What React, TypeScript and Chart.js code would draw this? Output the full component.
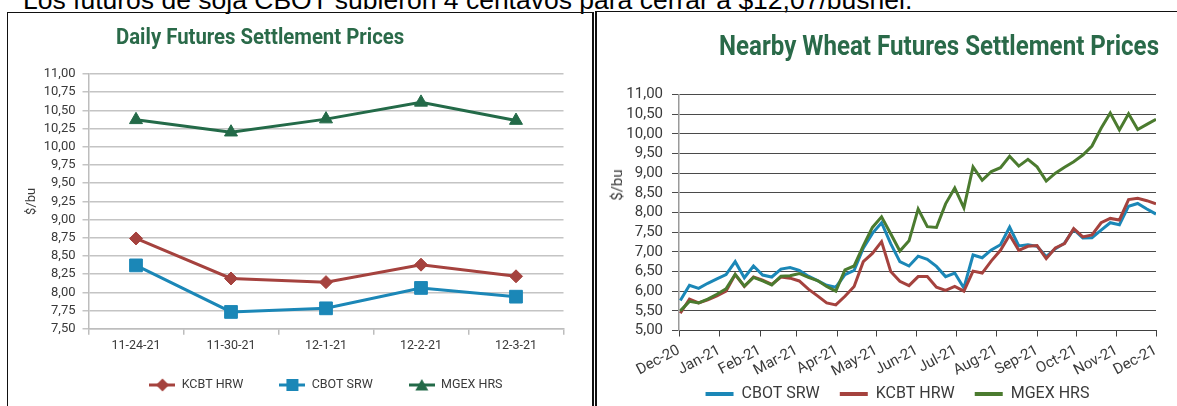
import React, { useEffect, useRef } from 'react';
import { Chart, registerables } from 'chart.js';

Chart.register(...registerables);

// ---------- text ----------
const topText = 'Los futuros de soja CBOT subieron 4 centavos para cerrar a $12,07/bushel.';
const dailyTitle = 'Daily Futures Settlement Prices';
const nearbyTitle = 'Nearby Wheat Futures Settlement Prices';
const axisTitle = '$/bu';

// ---------- left chart data ----------
const dailyDates = ['11-24-21', '11-30-21', '12-1-21', '12-2-21', '12-3-21'];
const dailyKcbt = [8.74, 8.19, 8.14, 8.38, 8.22];
const dailyCbot = [8.37, 7.73, 7.78, 8.06, 7.94];
const dailyMgex = [10.37, 10.2, 10.38, 10.61, 10.36];

// ---------- right chart data ----------
const weekDates = [
  '2020-12-02', '2020-12-09', '2020-12-16', '2020-12-23', '2020-12-30',
  '2021-01-06', '2021-01-13', '2021-01-20', '2021-01-27',
  '2021-02-03', '2021-02-10', '2021-02-17', '2021-02-24',
  '2021-03-03', '2021-03-10', '2021-03-17', '2021-03-24', '2021-03-31',
  '2021-04-07', '2021-04-14', '2021-04-21', '2021-04-28',
  '2021-05-05', '2021-05-12', '2021-05-19', '2021-05-26',
  '2021-06-02', '2021-06-09', '2021-06-16', '2021-06-23', '2021-06-30',
  '2021-07-07', '2021-07-14', '2021-07-21', '2021-07-28',
  '2021-08-04', '2021-08-11', '2021-08-18', '2021-08-25',
  '2021-09-01', '2021-09-08', '2021-09-15', '2021-09-22', '2021-09-29',
  '2021-10-06', '2021-10-13', '2021-10-20', '2021-10-27',
  '2021-11-03', '2021-11-10', '2021-11-17', '2021-11-24',
  '2021-12-01',
];
const nearbyCbot = [5.76, 6.15, 6.07, 6.2, 6.31, 6.42, 6.75, 6.34, 6.64, 6.41, 6.36, 6.56, 6.6, 6.53, 6.38, 6.27, 6.15, 6.1, 6.42, 6.53, 7.09, 7.47, 7.74, 7.21, 6.75, 6.64, 6.89, 6.81, 6.63, 6.37, 6.46, 6.08, 6.92, 6.85, 7.05, 7.18, 7.63, 7.15, 7.18, 7.14, 6.88, 7.08, 7.22, 7.57, 7.35, 7.36, 7.55, 7.74, 7.69, 8.16, 8.23, 8.09, 7.96];
const nearbyKcbt = [5.44, 5.8, 5.7, 5.78, 5.88, 6.0, 6.42, 6.12, 6.36, 6.28, 6.17, 6.36, 6.33, 6.26, 6.05, 5.88, 5.7, 5.65, 5.87, 6.12, 6.75, 6.96, 7.26, 6.5, 6.25, 6.14, 6.37, 6.37, 6.1, 6.02, 6.12, 6.0, 6.51, 6.46, 6.77, 7.04, 7.43, 7.04, 7.14, 7.16, 6.83, 7.1, 7.21, 7.59, 7.38, 7.43, 7.74, 7.85, 7.81, 8.33, 8.36, 8.3, 8.22];
const nearbyMgex = [5.5, 5.74, 5.7, 5.8, 5.92, 6.06, 6.43, 6.13, 6.35, 6.26, 6.16, 6.38, 6.39, 6.45, 6.35, 6.27, 6.12, 6.0, 6.54, 6.64, 7.15, 7.62, 7.89, 7.46, 7.02, 7.28, 8.09, 7.64, 7.62, 8.22, 8.62, 8.12, 9.16, 8.82, 9.04, 9.14, 9.43, 9.18, 9.35, 9.16, 8.8, 9.0, 9.15, 9.29, 9.46, 9.69, 10.14, 10.53, 10.1, 10.51, 10.11, 10.24, 10.37];
const monthTickDates = ['2020-12-01', '2021-01-01', '2021-02-01', '2021-03-01', '2021-04-01', '2021-05-01', '2021-06-01', '2021-07-01', '2021-08-01', '2021-09-01', '2021-10-01', '2021-11-01', '2021-12-01'];
const monthTickLabels = ['Dec-20', 'Jan-21', 'Feb-21', 'Mar-21', 'Apr-21', 'May-21', 'Jun-21', 'Jul-21', 'Aug-21', 'Sep-21', 'Oct-21', 'Nov-21', 'Dec-21'];

// ---------- styles ----------
const RED = '#a5423e';
const BLUE = '#1b87b7';
const DARK_GREEN = '#236a48';
const OLIVE = '#4b7b2f';
const TITLE_GREEN = '#2a6a49';
const TEXT = '#3a3a3a';

const DAY = 86400000;
const origin = Date.parse(monthTickDates[0]);
const toDay = (s: string) => Math.round((Date.parse(s) - origin) / DAY);
const fmt = (v: any) => Number(v).toFixed(2).replace('.', ',');

// let tick labels draw outside the fixed-size scale boxes
const unclipLabels = {
  id: 'unclipLabels',
  afterLayout(chart: any) {
    const { x, y } = chart.scales;
    if (x) x.bottom = chart.height;
    if (y) y.left = 0;
  },
};

function legendIcon(color: string, shape: string): HTMLCanvasElement {
  const c = document.createElement('canvas');
  c.width = 26;
  c.height = 16;
  const ctx = c.getContext('2d')!;
  ctx.strokeStyle = color;
  ctx.fillStyle = color;
  ctx.lineWidth = 3;
  ctx.beginPath();
  ctx.moveTo(0, 8);
  ctx.lineTo(26, 8);
  ctx.stroke();
  ctx.beginPath();
  if (shape === 'diamond') {
    ctx.moveTo(13, 1.5); ctx.lineTo(19.5, 8); ctx.lineTo(13, 14.5); ctx.lineTo(6.5, 8);
  } else if (shape === 'square') {
    ctx.rect(7, 2, 12, 12);
  } else {
    ctx.moveTo(13, 2); ctx.lineTo(19.5, 13.5); ctx.lineTo(6.5, 13.5);
  }
  ctx.closePath();
  ctx.fill();
  return c;
}

export default function App() {
  const leftRef = useRef<HTMLCanvasElement | null>(null);
  const rightRef = useRef<HTMLCanvasElement | null>(null);

  useEffect(() => {
    Chart.defaults.font.family = 'Roboto, "Noto Sans", sans-serif';
    Chart.defaults.color = TEXT;

    const icons = [legendIcon(RED, 'diamond'), legendIcon(BLUE, 'square'), legendIcon(DARK_GREEN, 'triangle')];

    const left = new Chart(leftRef.current!, {
      type: 'line',
      data: {
        labels: dailyDates,
        datasets: [
          { label: 'KCBT HRW', data: dailyKcbt, borderColor: RED, backgroundColor: RED, borderWidth: 3, pointStyle: 'rectRot', pointRadius: 6.5, pointBorderWidth: 1, pointBackgroundColor: RED, pointBorderColor: RED, tension: 0 },
          { label: 'CBOT SRW', data: dailyCbot, borderColor: BLUE, backgroundColor: BLUE, borderWidth: 3, pointStyle: 'rect', pointRadius: 9, pointBorderWidth: 1, pointBackgroundColor: BLUE, pointBorderColor: BLUE, tension: 0 },
          { label: 'MGEX HRS', data: dailyMgex, borderColor: DARK_GREEN, backgroundColor: DARK_GREEN, borderWidth: 3, pointStyle: 'triangle', pointRadius: 7.5, pointBorderWidth: 1, pointBackgroundColor: DARK_GREEN, pointBorderColor: DARK_GREEN, tension: 0 },
        ],
      },
      plugins: [unclipLabels],
      options: {
        animation: false,
        responsive: false,
        events: [],
        layout: { padding: { left: 0, right: 28.5, top: 60, bottom: 22.75 }, autoPadding: false },
        plugins: {
          title: { display: false },
          tooltip: { enabled: false },
          legend: {
            position: 'bottom',
            fullSize: false,
            labels: {
              usePointStyle: true,
              pointStyleWidth: 26,
              padding: 36,
              color: TEXT,
              font: { size: 12.5 },
              generateLabels: (chart: any) =>
                Chart.defaults.plugins.legend.labels.generateLabels(chart).map((l: any) => ({ ...l, pointStyle: icons[l.datasetIndex] })),
            },
          },
        },
        scales: {
          x: {
            type: 'category',
            offset: true,
            grid: { offset: true, drawOnChartArea: false, drawTicks: true, tickLength: 6, color: '#bdbdbd', lineWidth: 1.5 },
            border: { display: true, color: '#bdbdbd', width: 1.5 },
            ticks: { font: { size: 12.5 }, color: TEXT, padding: 4, maxRotation: 0, autoSkip: false },
            afterFit: (s: any) => { s.height = 14.05; s.paddingLeft = 0; s.paddingRight = 0; },
          },
          y: {
            min: 7.5,
            max: 11,
            ticks: { stepSize: 0.25, maxTicksLimit: 30, autoSkip: false, callback: fmt, font: { size: 13 }, color: TEXT, padding: 7 },
            grid: { color: '#c4c4c4', lineWidth: 1.5, tickLength: 6 },
            border: { display: true, color: '#bdbdbd', width: 1.5 },
            title: { display: true, text: axisTitle, font: { size: 13 }, color: TEXT, padding: { top: 15.2, bottom: 0 } },
            afterFit: (s: any) => { s.width = 79.5; s.paddingTop = 0; s.paddingBottom = 0; },
          },
        },
      },
    } as any);

    const weekDays = weekDates.map(toDay);
    const monthDays = monthTickDates.map(toDay);
    const pts = (vals: number[]) => weekDays.map((x, i) => ({ x, y: vals[i] }));

    const right = new Chart(rightRef.current!, {
      type: 'line',
      data: {
        datasets: [
          { label: 'CBOT SRW', data: pts(nearbyCbot), borderColor: BLUE, backgroundColor: BLUE, borderWidth: 3, pointRadius: 0, tension: 0, order: 3 },
          { label: 'KCBT HRW', data: pts(nearbyKcbt), borderColor: RED, backgroundColor: RED, borderWidth: 3, pointRadius: 0, tension: 0, order: 2 },
          { label: 'MGEX HRS', data: pts(nearbyMgex), borderColor: OLIVE, backgroundColor: OLIVE, borderWidth: 3, pointRadius: 0, tension: 0, order: 1 },
        ],
      },
      plugins: [unclipLabels],
      options: {
        animation: false,
        responsive: false,
        events: [],
        layout: { padding: { left: 42, right: 21, top: 81.5, bottom: 11 }, autoPadding: false },
        plugins: {
          title: { display: false },
          tooltip: { enabled: false },
          legend: {
            position: 'bottom',
            labels: {
              boxWidth: 28,
              boxHeight: 4,
              padding: 20,
              color: TEXT,
              font: { size: 16 },
              sort: (a: any, b: any) => a.datasetIndex - b.datasetIndex,
              generateLabels: (chart: any) =>
                Chart.defaults.plugins.legend.labels.generateLabels(chart).map((l: any) => ({
                  ...l,
                  fillStyle: chart.data.datasets[l.datasetIndex].borderColor,
                  strokeStyle: 'rgba(0,0,0,0)',
                  lineWidth: 0,
                })),
            },
          },
        },
        scales: {
          x: {
            type: 'linear',
            min: monthDays[0],
            max: monthDays[monthDays.length - 1],
            afterBuildTicks: (s: any) => { s.ticks = monthDays.map((v) => ({ value: v })); },
            ticks: { callback: (_v: any, i: number) => monthTickLabels[i], autoSkip: false, minRotation: 28, maxRotation: 28, font: { size: 15 }, color: TEXT, padding: 5 },
            grid: { drawOnChartArea: false, drawTicks: true, tickLength: 6, color: '#404040', lineWidth: 1 },
            border: { display: true, color: '#404040', width: 1 },
            afterFit: (s: any) => { s.height = 35.5; s.paddingLeft = 0; s.paddingRight = 0; },
          },
          y: {
            min: 5,
            max: 11,
            ticks: { stepSize: 0.5, maxTicksLimit: 30, autoSkip: false, callback: fmt, font: { size: 15 }, color: TEXT, padding: 9 },
            grid: { color: '#4a4a4a', lineWidth: 1, tickLength: 7 },
            border: { display: true, color: '#9a9a9a', width: 1.5 },
            afterFit: (s: any) => { s.width = 40; s.paddingTop = 0; s.paddingBottom = 0; },
          },
        },
      },
    } as any);

    return () => {
      left.destroy();
      right.destroy();
    };
  }, []);

  return (
    <div style={{ position: 'absolute', left: 0, top: 0, width: 1177, height: 406, overflow: 'hidden', background: '#fff' }}>
      <div style={{ position: 'absolute', left: 23, top: -12.9, fontFamily: '"Liberation Sans", Arial, sans-serif', fontSize: 26.5, lineHeight: '26.5px', whiteSpace: 'nowrap', color: '#000' }}>
        {topText}
      </div>
      <div style={{ position: 'absolute', left: 7, top: 12, width: 587, height: 420, boxSizing: 'border-box', borderLeft: '1.5px solid #111', borderTop: '1.5px solid #111', borderRight: '2px solid #111' }} />
      <div style={{ position: 'absolute', left: 595, top: 11, width: 600, height: 420, boxSizing: 'border-box', borderLeft: '2px solid #111', borderTop: '1.5px solid #111' }} />
      <canvas ref={leftRef} width={583} height={410} style={{ position: 'absolute', left: 9, top: 14, width: 583, height: 410 }} />
      <canvas ref={rightRef} width={580} height={410} style={{ position: 'absolute', left: 597, top: 13, width: 580, height: 410 }} />
      <div style={{ position: 'absolute', left: 116, top: 25.5, fontFamily: 'Roboto, sans-serif', fontWeight: 700, fontSize: 22, lineHeight: '22px', color: TITLE_GREEN, whiteSpace: 'nowrap', transform: 'scaleX(0.925)', transformOrigin: 'left top' }}>
        {dailyTitle}
      </div>
      <div style={{ position: 'absolute', left: 719, top: 33.3, fontFamily: 'Roboto, sans-serif', fontWeight: 700, fontSize: 27, lineHeight: '27px', color: TITLE_GREEN, whiteSpace: 'nowrap', transform: 'scaleX(0.893)', transformOrigin: 'left top' }}>
        {nearbyTitle}
      </div>
      <div style={{ position: 'absolute', left: 616.5, top: 184.5, width: 0, height: 0 }}>
        <div style={{ position: 'absolute', left: 0, top: 0, transform: 'translate(-50%, -50%) rotate(-90deg)', fontFamily: 'Roboto, sans-serif', fontSize: 15, lineHeight: '18px', color: TEXT, whiteSpace: 'nowrap' }}>
          {axisTitle}
        </div>
      </div>
    </div>
  );
}
